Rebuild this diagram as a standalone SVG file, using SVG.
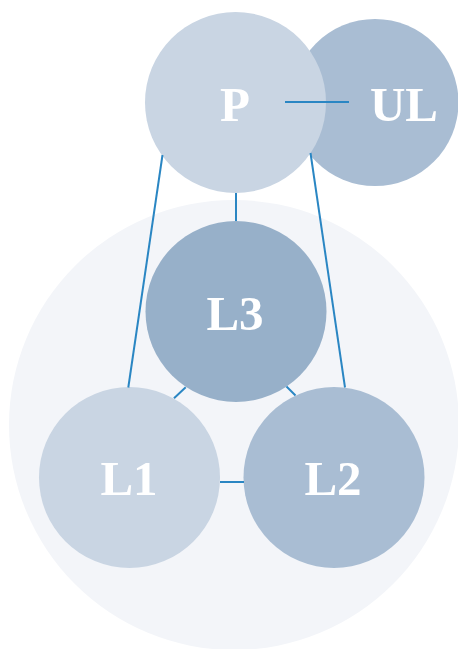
<svg xmlns="http://www.w3.org/2000/svg" width="458" height="649" viewBox="0 0 458 649">
  <style>
    .link { stroke: #2a86c3; stroke-width: 2; fill: none; }
    .lbl { font-family: "Liberation Serif", "Times New Roman", serif; font-weight: bold; font-size: 49px; fill: #ffffff; text-anchor: middle; }
    .light { fill: #c9d5e3; }
    .mid { fill: #a9bdd3; }
    .dark { fill: #97b0c9; }
  </style>
  <rect width="458" height="649" fill="#ffffff"/>

  <!-- layer grouping backdrop -->
  <circle id="layer-group" cx="234" cy="425" r="225" fill="#f3f5f9"/>

  <g id="node-UL">
    <circle class="mid" cx="375" cy="102.5" r="83.5"/>
    <text class="lbl" x="404" y="121">UL</text>
  </g>
  <g id="node-P">
    <circle class="light" cx="235.5" cy="102.5" r="90.5"/>
    <text class="lbl" x="235" y="121">P</text>
  </g>
  <g id="node-L3">
    <circle class="dark" cx="236" cy="311.5" r="90.5"/>
    <text class="lbl" x="235" y="330">L3</text>
  </g>
  <g id="node-L1">
    <circle class="light" cx="129.5" cy="477.5" r="90.5"/>
    <text class="lbl" x="129" y="495">L1</text>
  </g>
  <g id="node-L2">
    <circle class="mid" cx="334" cy="477.5" r="90.5"/>
    <text class="lbl" x="333" y="495">L2</text>
  </g>

  <!-- edges trimmed to the circle rims -->
  <g id="connectors">
    <line class="link" x1="285" y1="102" x2="349" y2="102"/>
    <line class="link" x1="162.5" y1="155" x2="128.3" y2="387.5"/>
    <line class="link" x1="310.5" y1="153" x2="345" y2="387.5"/>
    <line class="link" x1="236" y1="193" x2="236" y2="221"/>
    <line class="link" x1="185.7" y1="387.3" x2="174" y2="398.3"/>
    <line class="link" x1="286.5" y1="386.5" x2="295.5" y2="395.5"/>
    <line class="link" x1="220" y1="482" x2="244" y2="482"/>
  </g>
</svg>
